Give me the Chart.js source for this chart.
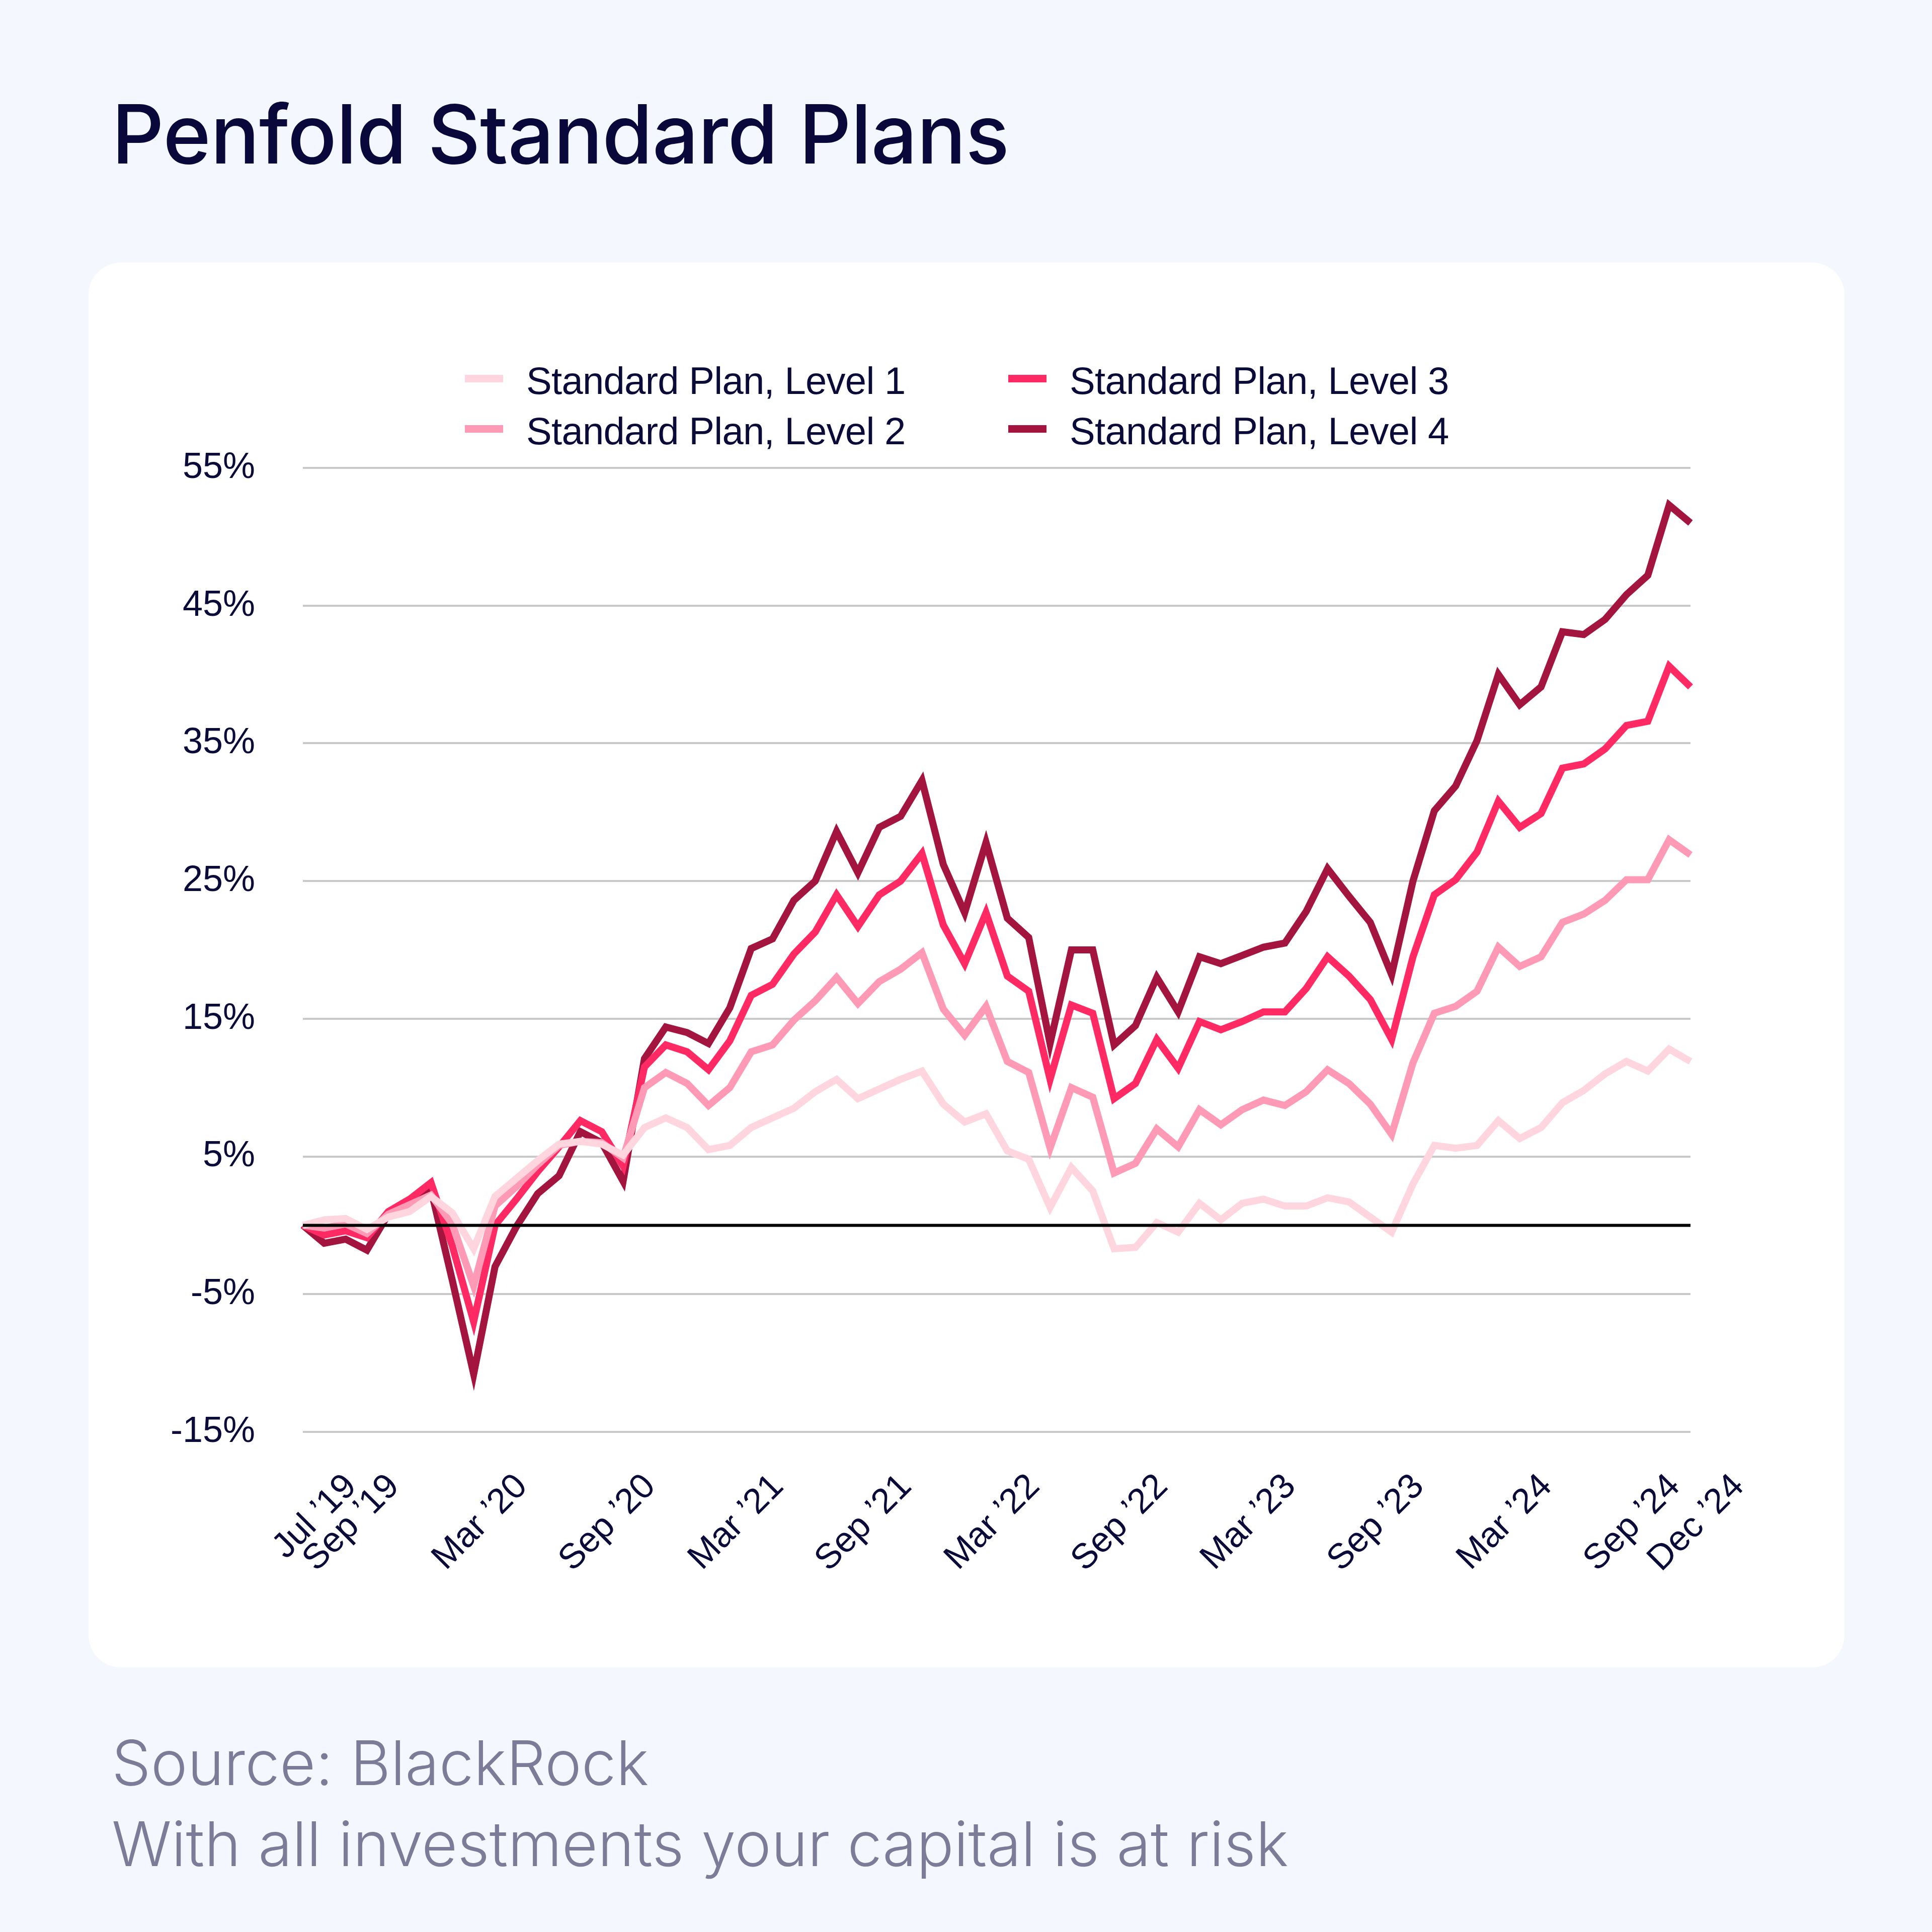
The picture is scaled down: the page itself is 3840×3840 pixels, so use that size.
<!DOCTYPE html>
<html>
<head>
<meta charset="utf-8">
<script src="https://cdn.jsdelivr.net/npm/chart.js@4.4.1/dist/chart.umd.min.js"></script>
<style>
  html, body { margin: 0; padding: 0; }
  body { width: 3840px; height: 3840px; background: #f4f7fe; position: relative; overflow: hidden; }
  .title { position: absolute; left: 222px; top: 185px; font-family: Inter, sans-serif; font-weight: 500;
           font-size: 162px; line-height: 1; letter-spacing: -0.8px; color: #08083a; white-space: nowrap; }
  .card { position: absolute; left: 176px; top: 522px; width: 3490px; height: 2792px; background: #fff; border-radius: 64px; }
  .card canvas { position: absolute; left: 0; top: 0; }
  .legend-item { position: absolute; display: flex; align-items: center; font-family: "Liberation Sans", Arial, sans-serif;
                 font-size: 76px; line-height: 1; letter-spacing: -0.7px; color: #0b0b3a; white-space: nowrap; }
  .legend-item span.box { display: inline-block; width: 76px; height: 15px; margin-right: 46px; margin-top: -10px; }
  .note { position: absolute; left: 222px; font-family: Inter, sans-serif; font-weight: 300; font-size: 123px;
          line-height: 1; color: #7c7c99; white-space: nowrap; }
</style>
</head>
<body>
<div class="title">Penfold Standard Plans</div>
<div class="card">
  <canvas id="chart" width="3490" height="2792" style="width:3490px;height:2792px"></canvas>
</div>
<div id="legend"></div>
<div class="note" style="top:3442px">Source: BlackRock</div>
<div class="note" style="top:3603px">With all investments your capital is at risk</div>
<script>
const months = [
  'Jul ’19', 'Aug ’19', 'Sep ’19', 'Oct ’19', 'Nov ’19', 'Dec ’19',
  'Jan ’20', 'Feb ’20', 'Mar ’20', 'Apr ’20', 'May ’20', 'Jun ’20', 'Jul ’20', 'Aug ’20', 'Sep ’20', 'Oct ’20', 'Nov ’20', 'Dec ’20',
  'Jan ’21', 'Feb ’21', 'Mar ’21', 'Apr ’21', 'May ’21', 'Jun ’21', 'Jul ’21', 'Aug ’21', 'Sep ’21', 'Oct ’21', 'Nov ’21', 'Dec ’21',
  'Jan ’22', 'Feb ’22', 'Mar ’22', 'Apr ’22', 'May ’22', 'Jun ’22', 'Jul ’22', 'Aug ’22', 'Sep ’22', 'Oct ’22', 'Nov ’22', 'Dec ’22',
  'Jan ’23', 'Feb ’23', 'Mar ’23', 'Apr ’23', 'May ’23', 'Jun ’23', 'Jul ’23', 'Aug ’23', 'Sep ’23', 'Oct ’23', 'Nov ’23', 'Dec ’23',
  'Jan ’24', 'Feb ’24', 'Mar ’24', 'Apr ’24', 'May ’24', 'Jun ’24', 'Jul ’24', 'Aug ’24', 'Sep ’24', 'Oct ’24', 'Nov ’24', 'Dec ’24'
];

const tickLabels = ['Jul ’19', 'Sep ’19', 'Mar ’20', 'Sep ’20', 'Mar ’21', 'Sep ’21', 'Mar ’22',
  'Sep ’22', 'Mar ’23', 'Sep ’23', 'Mar ’24', 'Sep ’24', 'Dec ’24'];

const level1 = [0, 0.4, 0.5, -0.3, 0.6, 1.0, 2.1, 0.9, -1.7, 2.1, 3.4, 4.7, 5.9, 6.1, 5.9, 5.1, 7.1, 7.8,
  7.1, 5.5, 5.8, 7.1, 7.8, 8.5, 9.7, 10.6, 9.2, 9.9, 10.6, 11.2,
  8.8, 7.5, 8.1, 5.4, 4.8, 1.3, 4.2, 2.5, -1.7, -1.6, 0.2, -0.5,
  1.6, 0.4, 1.6, 1.9, 1.4, 1.4, 2.0, 1.7, 0.6, -0.5, 3.0, 5.8,
  5.6, 5.8, 7.6, 6.3, 7.1, 8.9, 9.8, 11.0, 11.9, 11.2, 12.8, 11.9];

const level2 = [0, -0.2, 0.1, -0.6, 0.8, 1.5, 2.2, 0.1, -4.4, 1.4, 2.8, 4.4, 5.8, 6.1, 6.0, 4.9, 10.0, 11.1,
  10.3, 8.7, 10.0, 12.6, 13.1, 14.9, 16.3, 18.0, 16.1, 17.7, 18.6, 19.8,
  15.7, 13.8, 15.9, 11.9, 11.1, 5.6, 10.0, 9.3, 3.8, 4.5, 7.0, 5.7,
  8.4, 7.3, 8.4, 9.1, 8.7, 9.7, 11.3, 10.3, 8.8, 6.6, 11.8, 15.4,
  15.9, 17.0, 20.2, 18.8, 19.5, 22.0, 22.6, 23.6, 25.1, 25.1, 28.0, 26.9];

const level3 = [0, -0.7, -0.4, -0.9, 1.0, 1.9, 3.1, -1.5, -7.0, 0.0, 1.9, 3.9, 5.7, 7.6, 6.8, 4.3, 11.5, 13.1,
  12.6, 11.3, 13.4, 16.7, 17.5, 19.7, 21.3, 24.0, 21.7, 24.0, 25.0, 27.0,
  21.8, 19.0, 22.7, 18.1, 17.0, 10.6, 16.0, 15.4, 9.2, 10.3, 13.5, 11.4,
  14.8, 14.2, 14.8, 15.5, 15.5, 17.2, 19.5, 18.1, 16.4, 13.5, 19.5, 24.0,
  25.1, 27.1, 30.8, 28.9, 29.9, 33.2, 33.5, 34.6, 36.3, 36.6, 40.6, 39.1];

const level4 = [0, -1.3, -1.0, -1.8, 0.8, 1.8, 2.6, -4.0, -10.8, -3.0, -0.1, 2.3, 3.6, 6.8, 6.0, 3.2, 12.1, 14.4,
  14.0, 13.2, 15.8, 20.1, 20.8, 23.6, 25.0, 28.6, 25.6, 28.9, 29.7, 32.3,
  26.2, 22.7, 27.8, 22.3, 20.9, 13.2, 20.0, 20.0, 13.1, 14.5, 18.0, 15.5,
  19.5, 19.0, 19.6, 20.2, 20.5, 22.8, 25.9, 23.9, 22.0, 18.2, 25.0, 30.1,
  31.9, 35.2, 40.0, 37.8, 39.1, 43.1, 42.9, 44.0, 45.8, 47.2, 52.3, 51.0];

const seriesNames = ['Standard Plan, Level 1', 'Standard Plan, Level 2', 'Standard Plan, Level 3', 'Standard Plan, Level 4'];
const seriesColors = ['#ffd5e0', '#ff9ab6', '#ff2a64', '#a3143e'];
const seriesData = [level1, level2, level3, level4];

const inkColor = '#0b0b3a';

// legend: two columns, level 1/2 on the left, 3/4 on the right
const legendSpots = [[924, 719], [924, 819], [2004, 719], [2004, 819]];
const legendBox = document.getElementById('legend');
seriesNames.forEach((name, i) => {
    const item = document.createElement('div');
    item.className = 'legend-item';
    item.style.left = legendSpots[i][0] + 'px';
    item.style.top = legendSpots[i][1] + 'px';
    item.innerHTML = '<span class="box" style="background:' + seriesColors[i] + '"></span>' + name;
    legendBox.appendChild(item);
});

const zeroLine = {
    id: 'zeroLine',
    afterDatasetsDraw(chart) {
        const { ctx, chartArea, scales } = chart;
        const py = scales.y.getPixelForValue(0);
        ctx.save();
        ctx.strokeStyle = '#000000';
        ctx.lineWidth = 6;
        ctx.beginPath();
        ctx.moveTo(chartArea.left, py);
        ctx.lineTo(chartArea.right, py);
        ctx.stroke();
        ctx.restore();
    },
};

const ctx = document.getElementById('chart').getContext('2d');
new Chart(ctx, {
    type: 'line',
    data: {
        labels: months,
        datasets: seriesData.map((d, i) => ({
            label: seriesNames[i],
            data: d,
            borderColor: seriesColors[i],
            backgroundColor: seriesColors[i],
            borderWidth: 14,
            borderJoinStyle: 'miter',
            pointRadius: 0,
            tension: 0,
            fill: false,
        })),
    },
    options: {
        responsive: false,
        animation: false,
        devicePixelRatio: 1,
        layout: { padding: { top: 408, right: 306, left: 0, bottom: 0 } },
        plugins: {
            legend: { display: false },
            tooltip: { enabled: false },
        },
        scales: {
            x: {
                grid: { display: false },
                border: { display: false },
                ticks: {
                    autoSkip: false,
                    minRotation: 45,
                    maxRotation: 45,
                    padding: 60,
                    labelOffset: 96,
                    color: inkColor,
                    font: { family: '"Liberation Sans", Arial, sans-serif', size: 70 },
                    callback: (value, index) => tickLabels.includes(months[index]) ? months[index] : null,
                },
                afterFit: (scale) => { scale.height = 468; },
            },
            y: {
                min: -15,
                max: 55,
                grid: { color: '#c9c9c9', lineWidth: 4, drawTicks: false },
                border: { display: false },
                ticks: {
                    stepSize: 10,
                    padding: 95,
                    color: inkColor,
                    font: { family: '"Liberation Sans", Arial, sans-serif', size: 72 },
                    callback: (v) => v + '%',
                },
                afterFit: (scale) => { scale.width = 426; },
            },
        },
    },
    plugins: [zeroLine],
});
</script>
</body>
</html>
